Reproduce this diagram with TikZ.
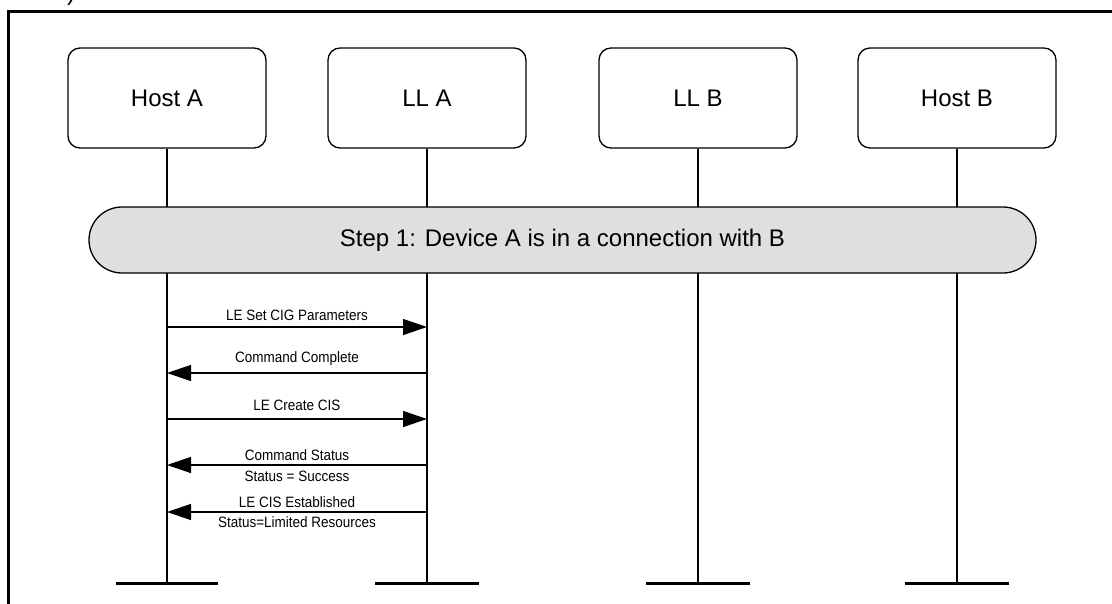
\documentclass[tikz,border=0pt]{standalone}
\usepackage{fontspec}
\setmainfont{Liberation Sans}
\newfontfamily\narrowfont[FakeStretch=0.9]{Liberation Sans}
\usetikzlibrary{arrows.meta}
\begin{document}
\begin{tikzpicture}[x=1pt,y=-1pt,
  entity/.style={draw, line width=1.3pt, rounded corners=12pt, minimum width=198pt, minimum height=100pt, inner sep=0pt, font=\fontsize{24}{28}\selectfont},
  lifeline/.style={line width=1.4pt},
  endbar/.style={line width=3pt},
  stepbox/.style={draw, line width=1.3pt, fill=gray!25, rounded corners=33pt, minimum width=947pt, minimum height=66pt, inner sep=0pt, font=\fontsize{24}{28}\selectfont},
  msg/.style={line width=1.3pt, -{Triangle[length=24pt,width=16pt]}},
  lbl/.style={font=\narrowfont\fontsize{15}{21}\selectfont, inner sep=0pt, align=center}
]
\useasboundingbox (0,0) rectangle (1112,603);
\draw[line width=3pt] (8.7,640) |- (1140,11);
\node[anchor=base west, inner sep=0pt, font=\fontsize{24}{28}\selectfont] (cap) at (67,0) {)};

% entities
\node[entity] (hA) at (167,98) {Host A};
\node[entity] (lA) at (427,98) {LL A};
\node[entity] (lB) at (698,98) {LL B};
\node[entity] (hB) at (957,98) {Host B};

% lifeline ends
\coordinate (eA) at (167,583);
\coordinate (eLA) at (427,583);
\coordinate (eLB) at (698,583);
\coordinate (eB) at (957,583);

\draw[lifeline] (hA.south) -- (eA);
\draw[lifeline] (lA.south) -- (eLA);
\draw[lifeline] (lB.south) -- (eLB);
\draw[lifeline] (hB.south) -- (eB);

\draw[endbar] ([xshift=-51pt]eA) -- ([xshift=51pt]eA);
\draw[endbar] ([xshift=-52pt]eLA) -- ([xshift=52pt]eLA);
\draw[endbar] ([xshift=-52pt]eLB) -- ([xshift=52pt]eLB);
\draw[endbar] ([xshift=-52pt]eB) -- ([xshift=52pt]eB);

% step
\node[stepbox] (step) at (562.5,240) {Step 1: Device A is in a connection with B};

% message points
\coordinate (a1) at (167,327); \coordinate (b1) at (427,327);
\coordinate (a2) at (167,373); \coordinate (b2) at (427,373);
\coordinate (a3) at (167,419); \coordinate (b3) at (427,419);
\coordinate (a4) at (167,465); \coordinate (b4) at (427,465);
\coordinate (a5) at (167,512); \coordinate (b5) at (427,512);

\draw[msg] (a1) -- (b1);
\draw[msg] (b2) -- (a2);
\draw[msg] (a3) -- (b3);
\draw[msg] (b4) -- (a4);
\draw[msg] (b5) -- (a5);

\node[lbl] (t1) at (297,315) {LE Set CIG Parameters};
\node[lbl] (t2) at (297,359) {Command Complete};
\node[lbl] (t3) at (297,405) {LE Create CIS};
\node[lbl] (t4) at (297,455) {Command Status};
\node[lbl] (t4b) at (297,476) {Status = Success};
\node[lbl] (t5) at (297,502) {LE CIS Established};
\node[lbl] (t5b) at (297,522) {Status=Limited Resources};
\end{tikzpicture}
\end{document}
